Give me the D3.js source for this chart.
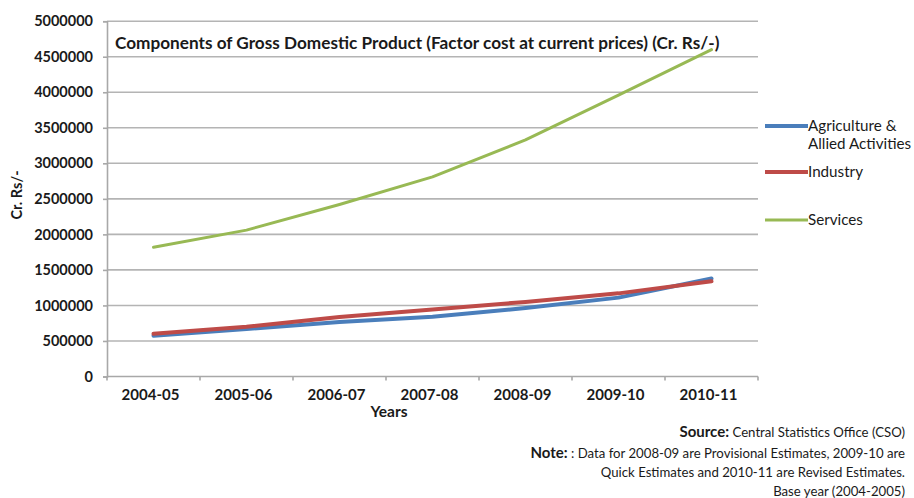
<!DOCTYPE html>
<html>
<head>
<meta charset="utf-8">
<script src="https://cdn.jsdelivr.net/npm/d3@7"></script>
<style>
  html, body { margin: 0; padding: 0; background: #fff; }
  svg { display: block; font-family: Lato, "Open Sans", sans-serif; }
</style>
</head>
<body>
<svg id="chart" width="914" height="498"></svg>
<script>
// GDP components by year, crore rupees
const categories = ["2004-05", "2005-06", "2006-07", "2007-08", "2008-09", "2009-10", "2010-11"];
const agriculture = [575000, 668000, 767000, 840000, 964000, 1110000, 1380000];
const industry = [600000, 700000, 837000, 943000, 1050000, 1170000, 1340000];
const services = [1820000, 2060000, 2420000, 2810000, 3330000, 3960000, 4600000];
const yTicks = [0, 500000, 1000000, 1500000, 2000000, 2500000, 3000000, 3500000, 4000000, 4500000, 5000000];
const seriesNames = ["Agriculture & Allied Activities", "Industry", "Services"];
const seriesColors = ["#4a7ebb", "#be4b48", "#98b954"];

const svg = d3.select("#chart");
const margin = { left: 107, right: 156, top: 21.2, bottom: 121.5 };
const W = 914, H = 498;
const x0 = margin.left, x1 = W - margin.right;
const y0 = H - margin.bottom, y1 = margin.top;

const x = d3.scaleBand().domain(categories).range([x0, x1]);
const y = d3.scaleLinear().domain([0, 5000000]).range([y0, y1]);

// horizontal gridlines
svg.append("g")
  .selectAll("line")
  .data(yTicks.filter(d => d > 0))
  .join("line")
  .attr("x1", x0).attr("x2", x1)
  .attr("y1", d => y(d)).attr("y2", d => y(d))
  .attr("stroke", "#b4b4b4").attr("stroke-width", 1.6);

// y axis
const yAxis = svg.append("g")
  .attr("transform", `translate(${x0},0)`)
  .call(d3.axisLeft(y).tickValues(yTicks).tickSize(4).tickPadding(10).tickFormat(d3.format("d")));
yAxis.select(".domain").attr("stroke", "#a8a8a8").attr("stroke-width", 1.6);
yAxis.selectAll(".tick line").attr("stroke", "#a8a8a8").attr("stroke-width", 1.6);
yAxis.selectAll(".tick text")
  .attr("fill", "#1a1a1a").attr("font-size", "14.5px").attr("font-weight", "bold")
  .attr("font-family", "Lato, sans-serif");

// x axis: ticks sit on category boundaries
const bounds = categories.map(c => x(c)).concat([x1]);
const xAxis = svg.append("g");
xAxis.append("line")
  .attr("x1", x0).attr("x2", x1).attr("y1", y0).attr("y2", y0)
  .attr("stroke", "#a8a8a8").attr("stroke-width", 1.6);
xAxis.selectAll("line.tk")
  .data(bounds)
  .join("line").attr("class", "tk")
  .attr("x1", d => d).attr("x2", d => d)
  .attr("y1", y0).attr("y2", y0 + 4)
  .attr("stroke", "#a8a8a8").attr("stroke-width", 1.6);
xAxis.selectAll("text")
  .data(categories)
  .join("text")
  .attr("x", d => x(d) + x.bandwidth() / 2 - 3)
  .attr("y", 400)
  .attr("text-anchor", "middle")
  .attr("font-size", "15px").attr("font-weight", "bold").attr("fill", "#1a1a1a")
  .text(d => d);

// axis titles
svg.append("text")
  .attr("x", 389).attr("y", 417)
  .attr("text-anchor", "middle")
  .attr("font-size", "15.5px").attr("font-weight", "bold").attr("fill", "#1a1a1a")
  .text("Years");
svg.append("text")
  .attr("transform", "translate(22,195) rotate(-90)")
  .attr("text-anchor", "middle")
  .attr("font-size", "14.5px").attr("font-weight", "bold").attr("fill", "#1a1a1a")
  .text("Cr. Rs/-");

// chart title inside plot area
svg.append("text")
  .attr("x", 115).attr("y", 49)
  .attr("font-size", "17.2px").attr("font-weight", "bold").attr("fill", "#1a1a1a")
  .text("Components of Gross Domestic Product (Factor cost at current prices) (Cr. Rs/-)");

// series lines
const line = d3.line()
  .x((d, i) => x(categories[i]) + x.bandwidth() / 2)
  .y(d => y(d));
const allSeries = [agriculture, industry, services];
const widths = [4, 4, 3];
svg.append("g")
  .selectAll("path")
  .data(allSeries)
  .join("path")
  .attr("d", d => line(d))
  .attr("fill", "none")
  .attr("stroke", (d, i) => seriesColors[i])
  .attr("stroke-width", (d, i) => widths[i])
  .attr("stroke-linejoin", "round")
  .attr("stroke-linecap", "round");

// legend
const legendY = [126, 172, 220];
const legend = svg.append("g");
legend.selectAll("line")
  .data(seriesNames)
  .join("line")
  .attr("x1", 765).attr("x2", 808)
  .attr("y1", (d, i) => legendY[i]).attr("y2", (d, i) => legendY[i])
  .attr("stroke", (d, i) => seriesColors[i])
  .attr("stroke-width", (d, i) => widths[i]);
const legendLabels = [["Agriculture &", "Allied Activities"], ["Industry"], ["Services"]];
legend.selectAll("text")
  .data(legendLabels)
  .join("text")
  .attr("x", 808)
  .attr("y", (d, i) => legendY[i] + 5)
  .attr("font-size", "15.2px").attr("fill", "#1a1a1a")
  .each(function(d) {
    d3.select(this).selectAll("tspan")
      .data(d).join("tspan")
      .attr("x", 808)
      .attr("dy", (t, j) => j === 0 ? 0 : 18)
      .text(t => t);
  });

// source and notes
const notes = [
  { bold: "Source:", text: " Central Statistics Office (CSO)", y: 437 },
  { bold: "Note:", text: " : Data for 2008-09 are Provisional Estimates, 2009-10 are", y: 458 },
  { bold: "", text: "Quick Estimates and 2010-11 are Revised Estimates.", y: 477 },
  { bold: "", text: "Base year (2004-2005)", y: 496 }
];
const noteG = svg.append("g");
notes.forEach(n => {
  const t = noteG.append("text")
    .attr("x", 905).attr("y", n.y)
    .attr("text-anchor", "end")
    .attr("fill", "#1a1a1a");
  if (n.bold) t.append("tspan").attr("font-weight", "bold").attr("font-size", "15px").text(n.bold);
  t.append("tspan").attr("font-size", "13.2px").text(n.text);
});
</script>
</body>
</html>
